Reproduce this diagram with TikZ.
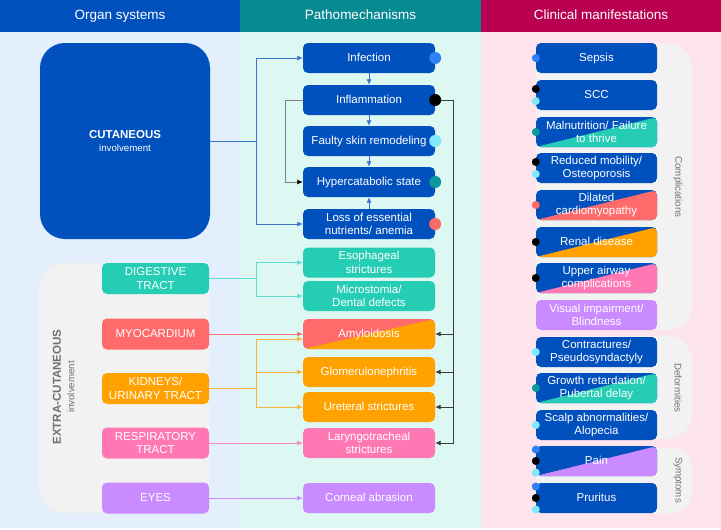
\documentclass[tikz,border=0pt]{standalone}
\usepackage{fontspec}
\setmainfont{Liberation Sans}
\usetikzlibrary{arrows.meta,calc}

\definecolor{hdblue}{HTML}{0050BE}
\definecolor{hdteal}{HTML}{078A91}
\definecolor{hdred}{HTML}{BA0050}
\definecolor{bgblue}{HTML}{E3EFFC}
\definecolor{bgmint}{HTML}{DDF7F2}
\definecolor{bgpink}{HTML}{FDE4EC}
\definecolor{boxblue}{HTML}{0050BE}
\definecolor{boxteal}{HTML}{26CDB5}
\definecolor{boxred}{HTML}{FF6B6B}
\definecolor{boxorange}{HTML}{FFA200}
\definecolor{boxpink}{HTML}{FF78B4}
\definecolor{boxpurple}{HTML}{C98BFF}
\definecolor{panel}{HTML}{F2F2F2}
\definecolor{labgray}{HTML}{707070}
\definecolor{dotblue}{HTML}{2F80F5}
\definecolor{dotcyan}{HTML}{7FE9FA}
\definecolor{dotteal}{HTML}{0A9A9E}
\definecolor{lineblue}{HTML}{3C74CC}
\definecolor{lineteal}{HTML}{62DCCB}
\definecolor{linered}{HTML}{FF7575}
\definecolor{lineorange}{HTML}{F7B53A}
\definecolor{linepink}{HTML}{F28CC2}
\definecolor{linepurple}{HTML}{C98BFF}
\definecolor{darkline}{HTML}{3C3C3C}

\tikzset{
  head/.style={fill=#1, text=white, minimum height=32pt, inner sep=0pt,
    text height=10pt, text depth=3pt, font=\fontsize{13.5}{16}\selectfont},
  card/.style={rounded corners=5pt, fill=#1, text=white, align=center,
    inner sep=0pt, font=\fontsize{11.5}{13.5}\selectfont},
  single/.style={text height=8.5pt, text depth=2pt},
  midbox/.style={card=#1, minimum width=132pt, minimum height=30pt},
  sidebox/.style={card=#1, minimum width=107pt, minimum height=31pt},
  outbox/.style={card=#1, minimum width=121pt, minimum height=30pt},
  split/.style={path picture={\fill[#1] (path picture bounding box.south west)
    -- (path picture bounding box.north east)
    -- (path picture bounding box.south east) -- cycle;}},
  grouplabel/.style={text=labgray, font=\fontsize{9.7}{11}\selectfont},
  wire/.style={draw=#1, line width=0.8pt},
  link/.style={wire=#1, -{Latex[length=5.5pt,width=5pt]}}
}

\begin{document}
\begin{tikzpicture}[x=1pt,y=-1pt]
\useasboundingbox (0,0) rectangle (721,530);

% columns
\fill[bgblue] (0,32) rectangle (240,528);
\fill[bgmint] (240,32) rectangle (481,528);
\fill[bgpink] (481,32) rectangle (721,528);
\node[head=hdblue, minimum width=240pt] (hdorg) at (120,16) {Organ systems};
\node[head=hdteal, minimum width=241pt] (hdpath) at (360.5,16) {Pathomechanisms};
\node[head=hdred, minimum width=240pt] (hdclin) at (601,16) {Clinical manifestations};

% grey panels
\fill[panel, rounded corners=25pt] (39,263) rectangle (209,513);
\fill[panel, rounded corners=25pt] (536,43) rectangle (692,330);
\fill[panel, rounded corners=25pt] (536,336) rectangle (692,439);
\fill[panel, rounded corners=20pt] (536,448) rectangle (692,513);

\node[rotate=90, text=labgray, font=\bfseries\fontsize{11.5}{13}\selectfont] (extra) at (57,387) {EXTRA-CUTANEOUS};
\node[rotate=90, grouplabel] (extrainv) at (71,387) {involvement};
\node[rotate=-90, grouplabel] (lblcomp) at (678,187) {Complications};
\node[rotate=-90, grouplabel] (lbldef) at (678,388) {Deformities};
\node[rotate=-90, grouplabel] (lblsym) at (678,480) {Symptoms};

% organ systems
\node[card=boxblue, rounded corners=25pt, minimum width=170pt, minimum height=196pt] (cut) at (125,141)
  {\textbf{CUTANEOUS}\\{\fontsize{9.7}{11}\selectfont involvement}};
\node[sidebox=boxteal] (dig) at (155.5,278.5) {DIGESTIVE\\TRACT};
\node[sidebox=boxred, single] (myo) at (155.5,334) {MYOCARDIUM};
\node[sidebox=boxorange] (kid) at (155.5,388.5) {KIDNEYS/\\URINARY TRACT};
\node[sidebox=boxpink] (resp) at (155.5,443) {RESPIRATORY\\TRACT};
\node[sidebox=boxpurple, single] (eyes) at (155.5,498) {EYES};

% pathomechanisms
\node[midbox=boxblue, single] (infect) at (369,58) {Infection};
\node[midbox=boxblue, single] (inflam) at (369,100) {Inflammation};
\node[midbox=boxblue, single] (faulty) at (369,141) {Faulty skin remodeling};
\node[midbox=boxblue, single] (hyper) at (369,182) {Hypercatabolic state};
\node[midbox=boxblue] (loss) at (369,224) {Loss of essential\\nutrients/ anemia};
\node[midbox=boxteal] (esoph) at (369,262.5) {Esophageal\\strictures};
\node[midbox=boxteal] (micro) at (369,296) {Microstomia/\\Dental defects};
\node[midbox=boxred, split=boxorange, single] (amyl) at (369,334) {Amyloidosis};
\node[midbox=boxorange, single] (glom) at (369,372) {Glomerulonephritis};
\node[midbox=boxorange, single] (uret) at (369,407) {Ureteral strictures};
\node[midbox=boxpink] (laryn) at (369,443) {Laryngotracheal\\strictures};
\node[midbox=boxpurple, single] (corneal) at (369,498) {Corneal abrasion};

% clinical manifestations
\node[outbox=boxblue, single] (sepsis) at (596.5,58) {Sepsis};
\node[outbox=boxblue, single] (scc) at (596.5,95) {SCC};
\node[outbox=boxblue, split=boxteal] (malnut) at (596.5,132) {Malnutrition/ Failure\\to thrive};
\node[outbox=boxblue] (mobil) at (596.5,168) {Reduced mobility/\\Osteoporosis};
\node[outbox=boxblue, split=boxred] (dcm) at (596.5,205) {Dilated\\cardiomyopathy};
\node[outbox=boxblue, split=boxorange, single] (renal) at (596.5,242) {Renal disease};
\node[outbox=boxblue, split=boxpink] (airway) at (596.5,278) {Upper airway\\complications};
\node[outbox=boxpurple] (visual) at (596.5,315) {Visual impairment/\\Blindness};
\node[outbox=boxblue] (contract) at (596.5,352) {Contractures/\\Pseudosyndactyly};
\node[outbox=boxblue, split=boxteal] (growth) at (596.5,388) {Growth retardation/\\Pubertal delay};
\node[outbox=boxblue] (scalp) at (596.5,425) {Scalp abnormalities/\\Alopecia};
\node[outbox=boxblue, split=boxpurple, single] (pain) at (596.5,461) {Pain};
\node[outbox=boxblue, single] (prurit) at (596.5,498) {Pruritus};

% cutaneous links
\coordinate (cutbus) at (256,141);
\draw[wire=lineblue] (cut.east) -- (cutbus);
\draw[link=lineblue] (cutbus) |- (infect.west);
\draw[link=lineblue] (cutbus) |- (loss.west);
\draw[link=lineblue] (infect) -- (inflam);
\draw[link=lineblue] (inflam) -- (faulty);
\draw[link=lineblue] (faulty) -- (hyper);
\draw[link=lineblue] (loss) -- (hyper);
\draw[wire=gray, -{Latex[length=5.5pt,width=5pt,color=black]}] (inflam.west) -- ++(-17,0) |- (hyper.west);

% inflammation to extra-cutaneous
\coordinate (inbus) at (453,100);
\draw[wire=darkline] (inflam.east) -- (inbus);
\foreach \n in {amyl,glom,uret,laryn}
  \draw[link=darkline] (inbus) |- (\n.east);

% extra-cutaneous links
\coordinate (digbus) at (256,278.5);
\draw[wire=lineteal] (dig.east) -- (digbus);
\foreach \n in {esoph,micro}
  \draw[link=lineteal] (digbus) |- (\n.west);
\draw[link=linered] (myo.east) -- (amyl.west);
\coordinate (kidbus) at (256,388.5);
\draw[wire=lineorange] (kid.east) -- (kidbus);
\draw[link=lineorange] (kidbus) |- ([yshift=-5pt]amyl.west);
\foreach \n in {glom,uret}
  \draw[link=lineorange] (kidbus) |- (\n.west);
\draw[link=linepink] (resp.east) -- (laryn.west);
\draw[link=linepurple] (eyes.east) -- (corneal.west);

% dots
\foreach \n/\c in {infect/dotblue, inflam/black, faulty/dotcyan, hyper/dotteal, loss/boxred}
  \fill[\c] (\n.east) circle (6pt);
\foreach \n/\c/\d in {sepsis/dotblue/0, scc/black/-6, scc/dotcyan/6, malnut/dotteal/0,
    mobil/black/-6, mobil/dotcyan/6, dcm/boxred/0, renal/black/0, airway/black/0,
    contract/dotcyan/0, growth/dotteal/0, scalp/dotcyan/0,
    pain/dotblue/-11.5, pain/black/0, pain/dotcyan/11.5,
    prurit/dotblue/-11.5, prurit/black/0, prurit/dotcyan/11.5}
  \fill[\c] ($(\n.west)+(0,\d)$) circle (4pt);
\end{tikzpicture}
\end{document}
